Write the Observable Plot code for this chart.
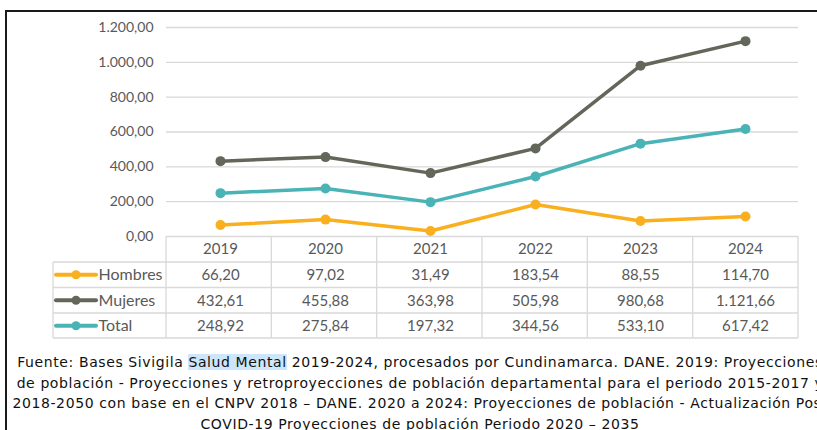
<!DOCTYPE html>
<html>
<head>
<meta charset="utf-8">
<script src="https://cdn.jsdelivr.net/npm/d3@7"></script>
<script src="https://cdn.jsdelivr.net/npm/@observablehq/plot@0.6"></script>
<style>
  html, body { margin: 0; padding: 0; background: #fff; }
  #wrap { position: relative; width: 817px; height: 430px; overflow: hidden; background: #fff; }
  #frame { position: absolute; left: 5px; top: 10px; width: 900px; height: 500px;
           border-left: 2px solid #1a1a1a; border-top: 2px solid #1a1a1a; box-sizing: border-box; }
  #chart { position: absolute; left: 0; top: 0; }
  #caption { position: absolute; left: 0; top: 352px; width: 840px; text-align: center;
             font-family: "DejaVu Sans", Verdana, sans-serif; font-size: 14px; letter-spacing: 0.6px;
             line-height: 20.5px; color: #111; white-space: nowrap; }
  #caption .hl { background: #cde6fb; }
</style>
</head>
<body>
<div id="wrap">
  <div id="frame"></div>
  <div id="chart"></div>
  <div id="caption">Fuente: Bases Sivigila <span class="hl">Salud Mental</span> 2019-2024, procesados por Cundinamarca. DANE. 2019: Proyecciones<br>de población - Proyecciones y retroproyecciones de población departamental para el periodo 2015-2017 y<br>2018-2050 con base en el CNPV 2018 – DANE. 2020 a 2024: Proyecciones de población - Actualización Post<br>COVID-19 Proyecciones de población Periodo 2020 – 2035</div>
</div>
<script>
const years = ["2019", "2020", "2021", "2022", "2023", "2024"];
const seriesNames = ["Hombres", "Mujeres", "Total"];
const hombres = [66.20, 97.02, 31.49, 183.54, 88.55, 114.70];
const mujeres = [432.61, 455.88, 363.98, 505.98, 980.68, 1121.66];
const total = [248.92, 275.84, 197.32, 344.56, 533.10, 617.42];
const yTicks = [0, 200, 400, 600, 800, 1000, 1200];
const colors = ["#F9AF1E", "#63675A", "#49B3B6"];

const seriesValues = [hombres, mujeres, total];
const fmt = d3.formatLocale({decimal: ",", thousands: ".", grouping: [3], currency: ["", ""]}).format(",.2f");

const rows = seriesNames.flatMap((s, i) => years.map((y, j) => ({series: s, year: y, value: seriesValues[i][j]})));

// table layout (pixel offsets below the frame bottom)
const rowEdges = [26, 51.5, 77, 102];
const rowCenters = [13, 38.75, 64.25, 89.75];
const legendWidth = 113;

function tableGrid(index, scales, values, dim) {
  const g = d3.create("svg:g");
  const fb = dim.height - dim.marginBottom;
  const x0 = dim.marginLeft, x1 = dim.width - dim.marginRight;
  const colW = (x1 - x0) / years.length;
  const lx = x0 - legendWidth;
  const stroke = "#d9d9d9";
  for (let i = 0; i <= years.length; i++) {
    g.append("line").attr("x1", x0 + i * colW).attr("x2", x0 + i * colW)
      .attr("y1", fb).attr("y2", fb + rowEdges[3]).attr("stroke", stroke).attr("stroke-width", 1.3);
  }
  for (const e of rowEdges) {
    g.append("line").attr("x1", lx).attr("x2", x1).attr("y1", fb + e).attr("y2", fb + e)
      .attr("stroke", stroke).attr("stroke-width", 1.3);
  }
  g.append("line").attr("x1", lx).attr("x2", lx).attr("y1", fb + rowEdges[0]).attr("y2", fb + rowEdges[3])
    .attr("stroke", stroke).attr("stroke-width", 1.3);
  seriesNames.forEach((s, i) => {
    const cy = fb + rowCenters[i + 1];
    g.append("line").attr("x1", lx + 3).attr("x2", lx + 43).attr("y1", cy).attr("y2", cy)
      .attr("stroke", colors[i]).attr("stroke-width", 4).attr("stroke-linecap", "round");
    g.append("circle").attr("cx", lx + 23).attr("cy", cy).attr("r", 4.5).attr("fill", colors[i]);
  });
  return g.node();
}

const valueRows = seriesNames.map((s, i) =>
  Plot.text(rows.filter(d => d.series === s), {
    x: "year", text: d => fmt(d.value), frameAnchor: "bottom", lineAnchor: "middle", dy: rowCenters[i + 1],
    fill: "#595959", fontSize: 15
  })
);

const legendLabels = seriesNames.map((s, i) =>
  Plot.text([s], {text: d => d, frameAnchor: "bottom-left", lineAnchor: "middle", dx: -68,
    dy: rowCenters[i + 1], textAnchor: "start", fill: "#595959", fontSize: 16})
);

const chart = Plot.plot({
  width: 817,
  height: 345,
  marginLeft: 166,
  marginRight: 19,
  marginTop: 27,
  marginBottom: 109,
  style: {fontFamily: "Lato, 'Open Sans', sans-serif", fontSize: "14px", color: "#595959", background: "transparent", overflow: "visible"},
  x: {type: "point", domain: years, padding: 0.5, axis: null},
  y: {domain: [0, 1200], ticks: yTicks, tickFormat: fmt, tickSize: 0, tickPadding: 13, label: null},
  color: {domain: seriesNames, range: colors},
  marks: [
    Plot.ruleY(yTicks, {stroke: "#d9d9d9", strokeWidth: 1.3}),
    tableGrid,
    Plot.line(rows, {x: "year", y: "value", z: "series", stroke: "series", strokeWidth: 3.5}),
    Plot.dot(rows, {x: "year", y: "value", fill: "series", r: 5}),
    Plot.text(years, {x: d => d, text: d => d, frameAnchor: "bottom", lineAnchor: "middle", dy: rowCenters[0], fill: "#595959", fontSize: 15}),
    ...legendLabels,
    ...valueRows
  ]
});
document.getElementById("chart").appendChild(chart);
</script>
</body>
</html>
